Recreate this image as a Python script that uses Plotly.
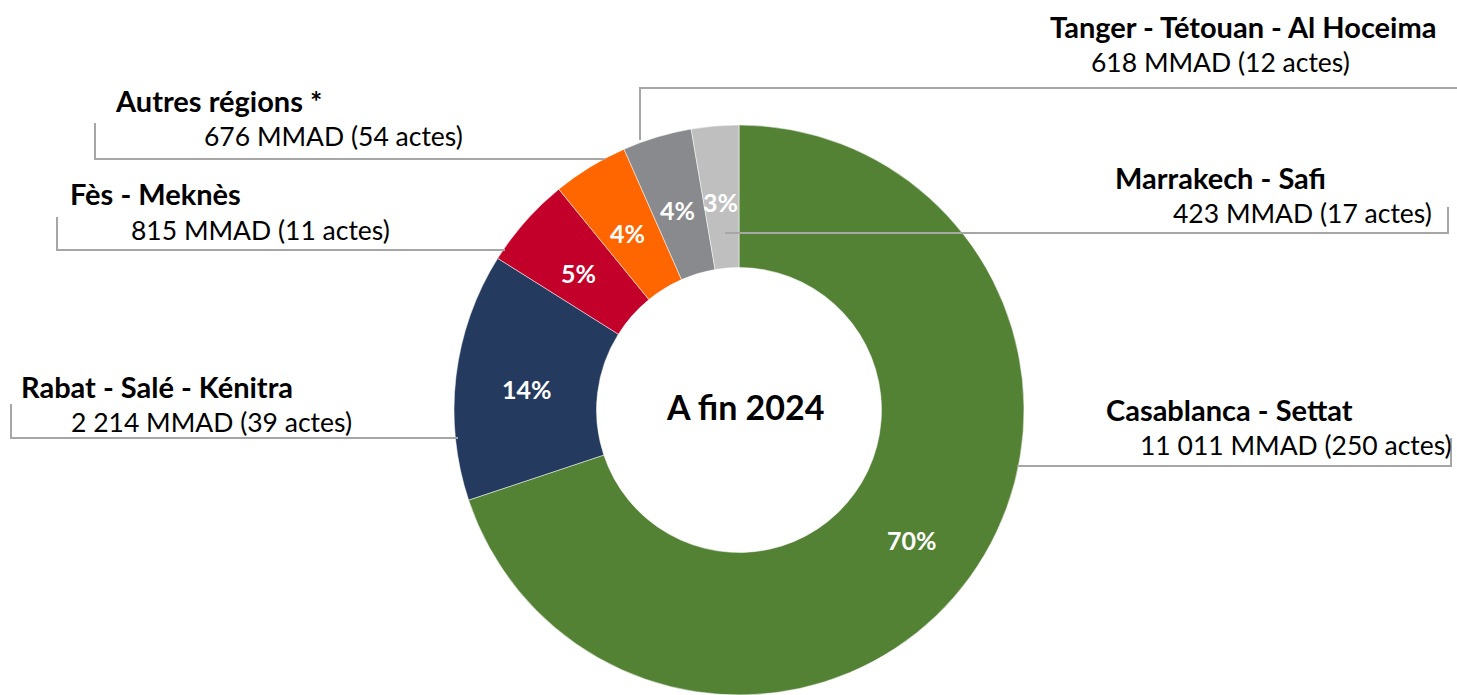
import math
import plotly.graph_objects as go

W, H = 1457, 695

regions = ["Casablanca - Settat", "Rabat - Salé - Kénitra", "Fès - Meknès",
           "Autres régions *", "Tanger - Tétouan - Al Hoceima", "Marrakech - Safi"]
amounts = [11011, 2214, 815, 676, 618, 423]
actes = [250, 39, 11, 54, 12, 17]
colors = ["#548235", "#243A5E", "#C3002A", "#FF6600", "#898A8D", "#BFBFBF"]
center_label = "A fin 2024"

FONT = "Lato"
HOLE = 0.5

# donut placement in pixels
CX, CY, R = 739, 410, 285

def px(x):
    return x / W

def py(y):
    return 1 - y / H

fig = go.Figure(go.Pie(
    labels=regions,
    values=amounts,
    sort=False,
    direction="clockwise",
    rotation=0,
    hole=HOLE,
    marker=dict(colors=colors, line=dict(color="white", width=0.5)),
    textinfo="none",
    domain=dict(x=[px(CX - R), px(CX + R)], y=[py(CY + R), py(CY - R)]),
    showlegend=False,
    hoverinfo="label+value+percent",
))

# label layout (pixel positions of text and leader lines)
title_pos = [(1229, 409), (157, 386), (155, 193), (218, 100), (1243, 26), (1220, 177)]
value_pos = [(1296, 445), (211, 422), (260, 230), (333, 136), (1220, 62), (1302, 213)]
leaders = [
    [(1017, 466), (1451, 466), (1451, 438)],
    [(458, 438), (11, 438), (11, 404)],
    [(505, 250), (57, 250), (57, 217)],
    [(605, 159), (95, 159), (95, 123)],
    [(640, 140), (640, 88), (1457, 88)],
    [(725, 233), (1448, 233), (1448, 207)],
]

def fmt(v):
    return f"{v:,}".replace(",", " ")

annotations = []
shapes = []
total = sum(amounts)
cum = 0.0
for i, name in enumerate(regions):
    # percentage label at the middle of each slice (computed from data)
    frac = amounts[i] / total
    mid = (cum + frac / 2) * 2 * math.pi
    cum += frac
    rm = R * (1 + HOLE) / 2
    lx = CX + rm * math.sin(mid)
    ly = CY - rm * math.cos(mid) + 5
    annotations.append(dict(x=px(lx), y=py(ly), xref="paper", yref="paper",
                            text=f"<b>{round(frac * 100)}%</b>", showarrow=False,
                            xanchor="center", yanchor="middle",
                            font=dict(family=FONT, size=25, color="white")))

    tx, ty = title_pos[i]
    annotations.append(dict(x=px(tx), y=py(ty), xref="paper", yref="paper",
                            text=f"<b>{name}</b>", showarrow=False,
                            xanchor="center", yanchor="middle",
                            font=dict(family=FONT, size=29, color="black")))
    vx, vy = value_pos[i]
    annotations.append(dict(x=px(vx), y=py(vy), xref="paper", yref="paper",
                            text=f"{fmt(amounts[i])} MMAD ({actes[i]} actes)", showarrow=False,
                            xanchor="center", yanchor="middle",
                            font=dict(family=FONT, size=26.5, color="black")))
    pts = leaders[i]
    path = "M " + " L ".join(f"{px(x)},{py(y)}" for x, y in pts)
    shapes.append(dict(type="path", path=path, xref="paper", yref="paper",
                       line=dict(color="#A6A6A6", width=2)))

annotations.append(dict(x=px(745), y=py(407), xref="paper", yref="paper",
                        text=f"<b>{center_label}</b>", showarrow=False,
                        xanchor="center", yanchor="middle",
                        font=dict(family=FONT, size=34, color="black")))

fig.update_layout(
    width=W, height=H,
    margin=dict(l=0, r=0, t=0, b=0),
    paper_bgcolor="white",
    plot_bgcolor="white",
    annotations=annotations,
    shapes=shapes,
)

fig.write_html("out.html", config={"displayModeBar": False},
               post_script="document.body.style.margin='0';")
